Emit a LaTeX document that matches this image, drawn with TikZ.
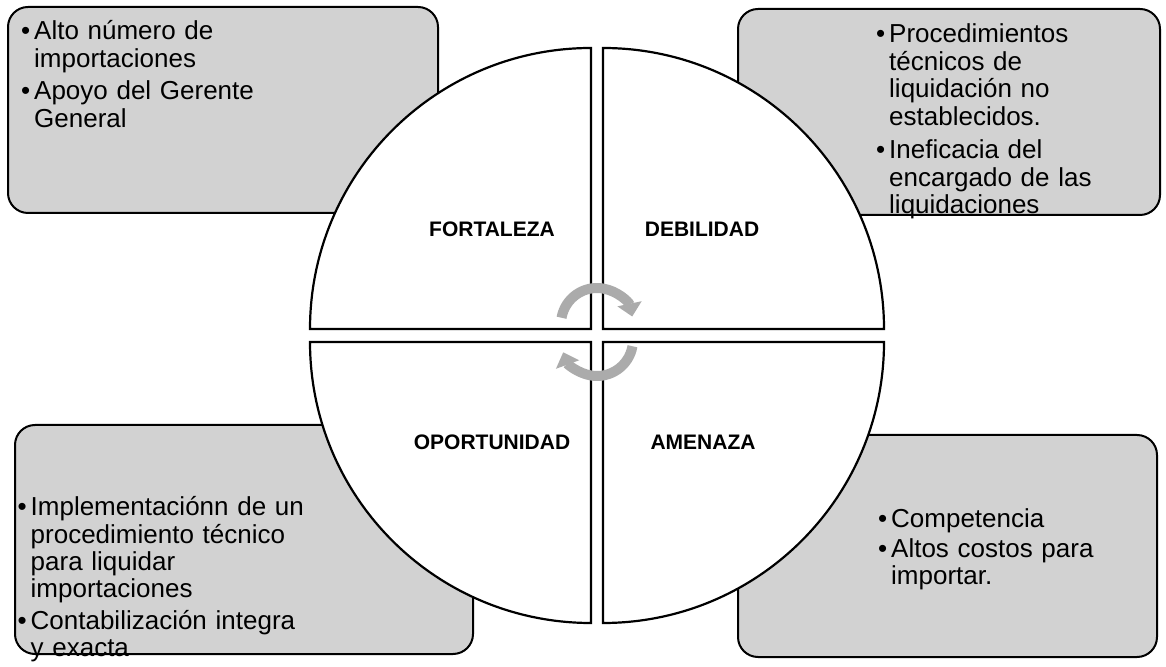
\documentclass[tikz,border=0pt]{standalone}
\usepackage{fontspec}
\setmainfont{Liberation Sans}
\usetikzlibrary{arrows.meta}
\definecolor{boxfill}{HTML}{D2D2D2}
\definecolor{arrowgray}{HTML}{ABABAB}
\newcommand{\bul}{\noindent\hangindent=13pt\hangafter=1\makebox[13pt][l]{•}}
\begin{document}
\begin{tikzpicture}[x=1pt,y=1pt,
  swotbox/.style={draw=black, line width=2pt, fill=boxfill, rounded corners=20pt, inner sep=0pt},
  quad/.style={draw=black, line width=2.2pt, fill=white, line join=miter},
  bodytext/.style={anchor=base west, inner sep=0pt, text width=430pt, font=\fontsize{26}{27.5}\selectfont},
  quadlabel/.style={font=\bfseries\fontsize{21}{24}\selectfont, inner sep=0pt},
  cyc/.style={draw=arrowgray, line width=10pt, -{Triangle[length=13pt,width=24pt]}}
]
\useasboundingbox (0,0) rectangle (1166,666);
\fill[white] (0,0) rectangle (1166,666);

% boxes
\node[swotbox, minimum width=430pt, minimum height=206pt] (boxTL) at (223,556) {};
\node[swotbox, minimum width=422pt, minimum height=206pt] (boxTR) at (949,554) {};
\node[swotbox, minimum width=458pt, minimum height=229pt] (boxBL) at (244,126.5) {};
\node[swotbox, minimum width=419pt, minimum height=222pt] (boxBR) at (947.5,120) {};

% quadrants
\draw[quad] (591,337) -- (310,337) arc[start angle=180, end angle=90, radius=281] -- cycle;
\draw[quad] (603,337) -- (603,618) arc[start angle=90, end angle=0, radius=281] -- cycle;
\draw[quad] (591,324) -- (310,324) arc[start angle=180, end angle=270, radius=281] -- cycle;
\draw[quad] (603,324) -- (884,324) arc[start angle=0, end angle=-90, radius=281] -- cycle;

% labels
\node[quadlabel] (fort) at (492,437) {FORTALEZA};
\node[quadlabel] (debi) at (702,437) {DEBILIDAD};
\node[quadlabel] (opor) at (492,224) {OPORTUNIDAD};
\node[quadlabel] (amen) at (703,224) {AMENAZA};

% texts
\node[bodytext] (tTL) at (21,626) {\bul Alto número de\newline importaciones\par\vspace{5pt}\bul Apoyo del Gerente\newline General\par};
\node[bodytext] (tTR) at (876,623) {\bul Procedimientos\newline técnicos de\newline liquidación no\newline establecidos.\par\vspace{6pt}\bul Ineficacia del\newline encargado de las\newline liquidaciones\par};
\node[bodytext, font=\fontsize{26}{27.2}\selectfont] (tBL) at (17.5,150) {\bul Implementaciónn de un\newline procedimiento técnico\newline para liquidar\newline importaciones\par\vspace{5pt}\bul Contabilización integra\newline y exacta\par};
\node[bodytext] (tBR) at (878,138) {\bul Competencia\par\vspace{2pt}\bul Altos costos para\newline importar.\par};

% cycle arrows
\draw[cyc] (597,342) ++(170:36) arc[start angle=170, end angle=12, radius=36];
\draw[cyc] (597,326) ++(-10:36) arc[start angle=-10, end angle=-160, radius=36];
\end{tikzpicture}
\end{document}
